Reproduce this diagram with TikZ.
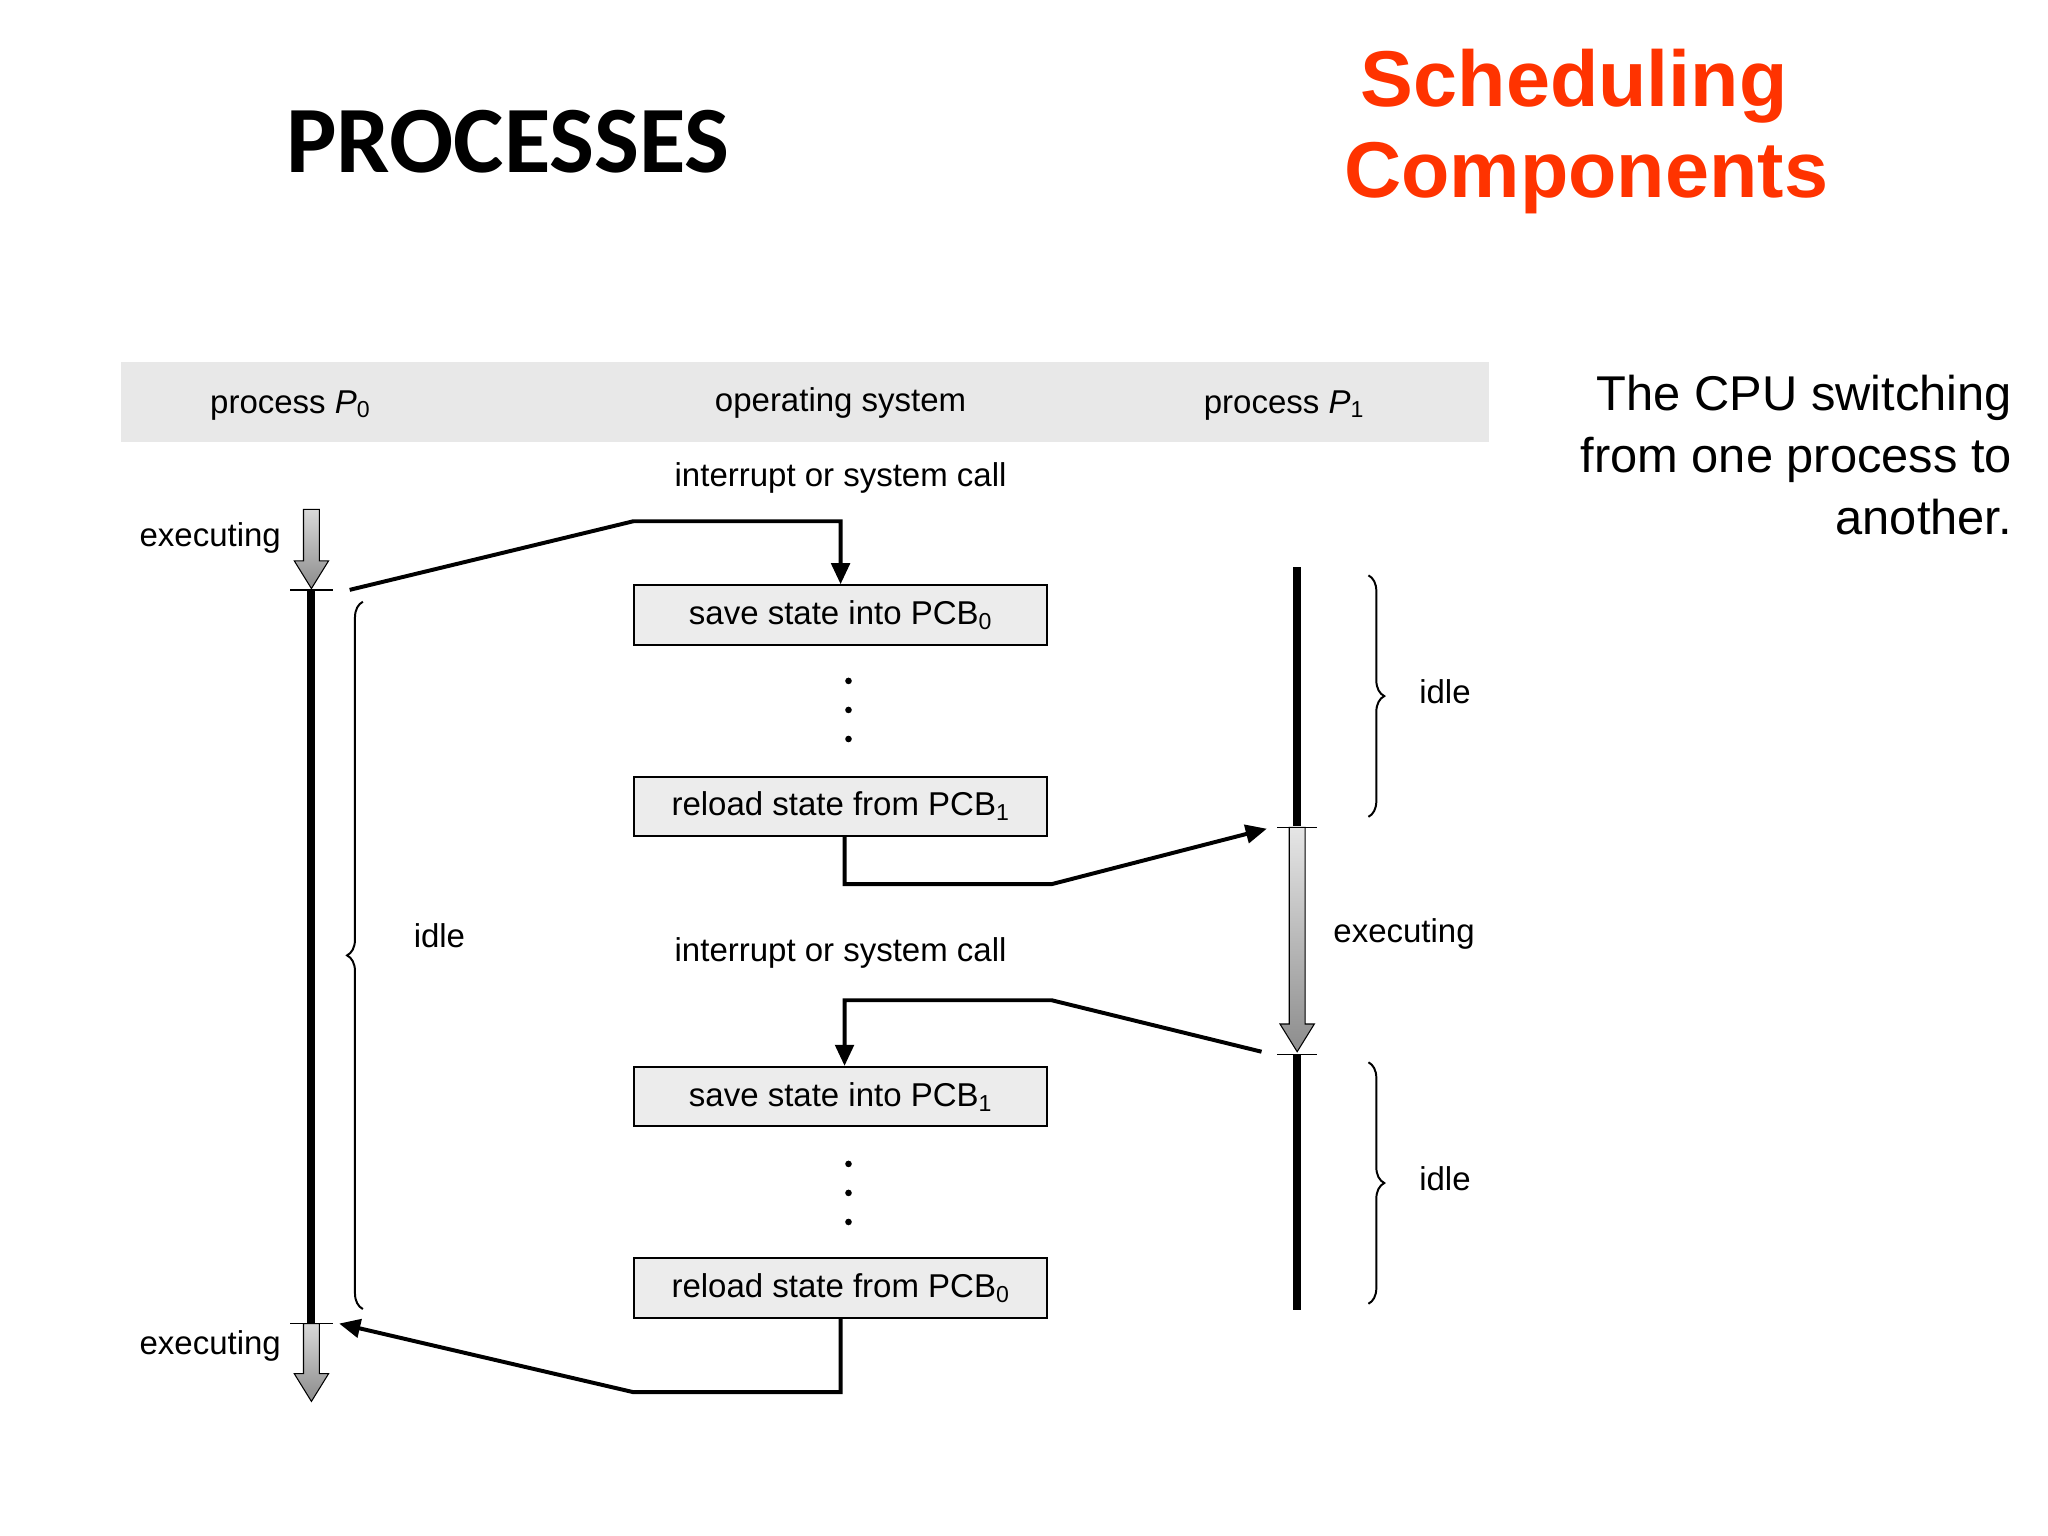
\documentclass[tikz,border=0pt]{standalone}
\usepackage{fontspec}
\setmainfont{Liberation Sans}
\newfontfamily\carlito{Carlito}
\usetikzlibrary{arrows.meta,decorations.pathreplacing}
\definecolor{hdr}{RGB}{232,232,232}
\definecolor{boxf}{RGB}{236,236,236}
\definecolor{titred}{RGB}{255,51,0}
\begin{document}
\begin{tikzpicture}[x=1pt,y=-1pt,
  lbl/.style={font=\fontsize{25}{28}\selectfont,inner sep=0pt},
  box/.style={draw,line width=1.5pt,fill=boxf,minimum width=313pt,minimum height=45pt,inner sep=0pt,font=\fontsize{25}{28}\selectfont},
  tl/.style={line width=6pt},
  tick/.style={line width=1.2pt},
  flow/.style={line width=3pt},
  arr/.style={flow,-{Triangle[length=16pt,width=14pt]}},
  br/.style={decorate,decoration={brace,amplitude=12pt},line width=1.5pt}]
\useasboundingbox (0,0) rectangle (1552,1164);
% titles
\node[font=\carlito\bfseries\fontsize{72}{80}\selectfont] (title) at (385,107) {PROCESSES};
\node[font=\bfseries\fontsize{60}{66}\selectfont,text=titred] (s1) at (1193,65) {Scheduling};
\node[font=\bfseries\fontsize{60}{66}\selectfont,text=titred] (s2) at (1202,135) {Components};
\node[font=\fontsize{37}{47}\selectfont,align=right,anchor=north east,inner sep=0pt] (desc) at (1525,284) {The CPU switching\\from one process to\\another.};
% header
\fill[hdr] (92,274) rectangle (1128,335);
\node[lbl] (h0) at (220,307) {process \textit{P}$_{\mathrm{0}}$};
\node[lbl] (h1) at (637,305) {operating system};
\node[lbl] (h2) at (973,307) {process \textit{P}$_{\mathrm{1}}$};
% P0 timeline
\shade[top color=gray!30,bottom color=gray!90,draw=black,line width=0.8pt]
  (230,386) -- (242,386) -- (242,425) -- (249,425) -- (236,446) -- (223,425) -- (230,425) -- cycle;
\shade[top color=gray!30,bottom color=gray!90,draw=black,line width=0.8pt]
  (230,1003) -- (242,1003) -- (242,1041) -- (249,1041) -- (236,1062) -- (223,1041) -- (230,1041) -- cycle;
\draw[tl] (236,447) -- (236,1003);
\draw[tick] (220,447) -- (252,447);
\draw[tick] (220,1003) -- (252,1003);
\node[lbl,anchor=east] (e0a) at (213,408) {executing};
\node[lbl,anchor=east] (e0b) at (213,1020) {executing};
\draw[br] (275,992) -- (275,456);
\node[lbl] (i0) at (333,709) {idle};
% P1 timeline
\draw[tl] (983,430) -- (983,626);
\draw[tl] (983,799) -- (983,993);
\shade[top color=gray!20,bottom color=gray!90,draw=black,line width=0.8pt]
  (977,627) -- (989,627) -- (989,776) -- (996,776) -- (983,797) -- (970,776) -- (977,776) -- cycle;
\draw[tick] (968,627) -- (998,627);
\draw[tick] (968,799) -- (998,799);
\node[lbl] (e1) at (1064,708) {executing};
\draw[br] (1037,436) -- (1037,619);
\draw[br] (1037,805) -- (1037,988);
\node[lbl] (i1) at (1095,524) {idle};
\node[lbl] (i2) at (1095,893) {idle};
% OS boxes
\node[box] (b1) at (637,466) {save state into PCB$_{\mathrm{0}}$};
\node[box] (b2) at (637,611) {reload state from PCB$_{\mathrm{1}}$};
\node[box] (b3) at (637,831) {save state into PCB$_{\mathrm{1}}$};
\node[box] (b4) at (637,976) {reload state from PCB$_{\mathrm{0}}$};
\foreach \y in {516,538,560,882,904,926} \fill (643,\y) circle (2.5pt);
\node[lbl] (int1) at (637,362) {interrupt or system call};
\node[lbl] (int2) at (637,722) {interrupt or system call};
% flows
\coordinate (p0out) at (265,447);
\coordinate (p1in) at (960,628);
\coordinate (p1out) at (956,797);
\coordinate (p0in) at (257,1003);
\draw[arr] (p0out) -- (480,395) -- (637,395) -- (b1.north);
\draw[arr] ([xshift=3pt]b2.south) -- (640,670) -- (797,670) -- (p1in);
\draw[arr] (p1out) -- (797,758) -- (640,758) -- ([xshift=3pt]b3.north);
\draw[arr] (b4.south) -- (637,1055) -- (480,1055) -- (p0in);
\end{tikzpicture}
\end{document}
